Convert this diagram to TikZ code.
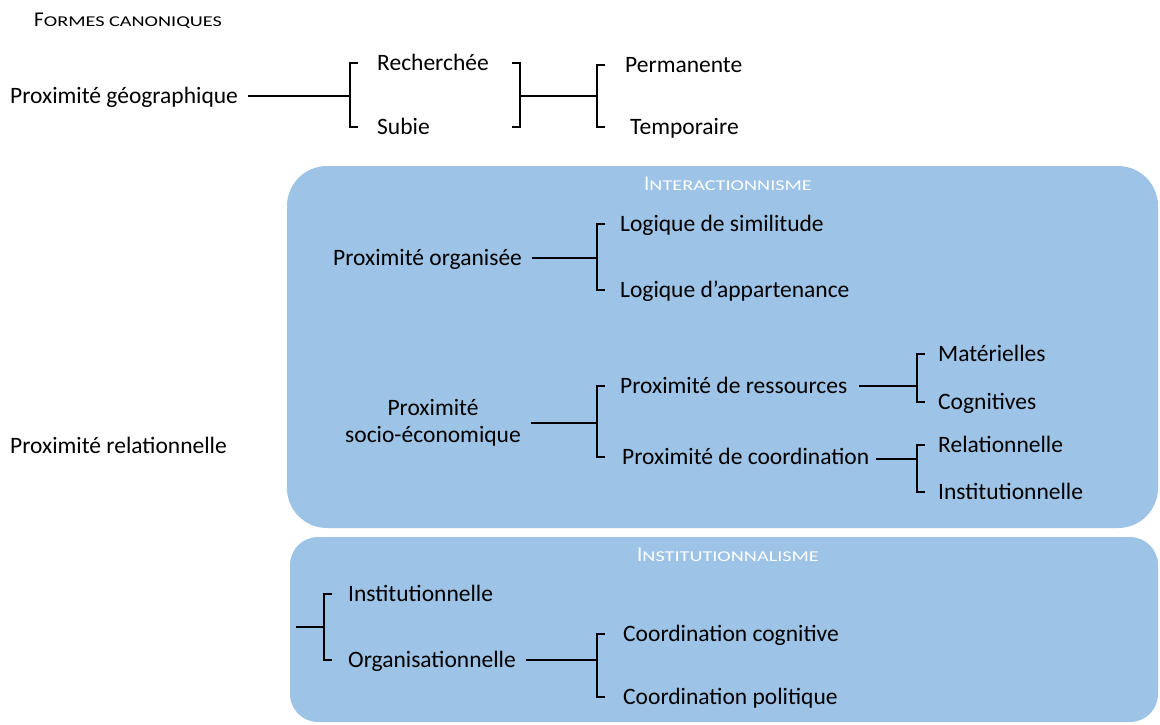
\documentclass[tikz,border=0pt]{standalone}
\usepackage{fontspec}
\setmainfont{Carlito}
\newfontfamily\capsfont[FakeStretch=1.35]{Carlito}
\definecolor{bleuboite}{RGB}{157,195,230}
\newcommand{\petitescap}[2]{{\fontsize{21}{24}\selectfont #1}{\capsfont\fontsize{15}{17}\selectfont #2}}
\tikzset{
  corps/.style={inner sep=0pt, font=\fontsize{23.5}{27}\selectfont},
  terme/.style={corps, anchor=west, text height=15pt, text depth=1pt},
  titre/.style={inner sep=0pt, text=white},
  lien/.style={line width=2.8pt, shorten <=10pt},
  accol/.style={line width=2.8pt},
  boite/.style={fill=bleuboite, rounded corners=40pt},
}
\begin{document}
\begin{tikzpicture}[x=1pt,y=-1pt]
\useasboundingbox (0,0) rectangle (1160,724);
% boites
\fill[boite] (287,166) rectangle (1158,528);
\fill[boite, rounded corners=28pt] (290,537) rectangle (1158,722);
% titres
\node[anchor=west, inner sep=0pt] (canon) at (34,21) {\petitescap{F}{ORMES CANONIQUES}};
\node[titre] (inter) at (728,184) {\petitescap{I}{NTERACTIONNISME}};
\node[titre] (instit) at (728,555) {\petitescap{I}{NSTITUTIONNALISME}};
% proximite geographique
\node[terme] (geo) at (10,96) {Proximité géographique};
\node[terme] (rech) at (377,63) {Recherchée};
\node[terme] (subie) at (377,127) {Subie};
\node[terme] (perm) at (625,65) {Permanente};
\node[terme] (temp) at (630,127) {Temporaire};
\coordinate (g1) at (350,96);
\coordinate (g2) at (520,96);
\coordinate (g3) at (597,96);
\draw[lien] (geo.east) -- (g1);
\draw[accol] ([xshift=8pt]g1 |- rech) -- (g1 |- rech) -- (g1 |- subie) -- ([xshift=8pt]g1 |- subie);
\draw[accol] ([xshift=-8pt]g2 |- rech) -- (g2 |- rech) -- (g2 |- subie) -- ([xshift=-8pt]g2 |- subie);
\draw[accol] (g2) -- (g3);
\draw[accol] ([xshift=8pt]g3 |- perm) -- (g3 |- perm) -- (g3 |- temp) -- ([xshift=8pt]g3 |- temp);
% proximite relationnelle
\node[terme] (relat) at (10,446) {Proximité relationnelle};
% interactionnisme
\node[terme] (org) at (333,258) {Proximité organisée};
\node[terme] (simil) at (620,224) {Logique de similitude};
\node[terme] (appart) at (620,290) {Logique d’appartenance};
\coordinate (o1) at (597,258);
\draw[lien] (org.east) -- (o1);
\draw[accol] ([xshift=8pt]o1 |- simil) -- (o1 |- simil) -- (o1 |- appart) -- ([xshift=8pt]o1 |- appart);
\node[corps, align=center] (socio) at (433,423) {Proximité\\socio-économique};
\node[terme] (ress) at (620,386) {Proximité de ressources};
\node[terme] (coord) at (622,457) {Proximité de coordination};
\coordinate (s1) at (597,423);
\draw[lien] (socio.east) -- (s1);
\draw[accol] ([xshift=8pt]s1 |- ress) -- (s1 |- ress) -- (s1 |- coord) -- ([xshift=8pt]s1 |- coord);
\node[terme] (mat) at (938,354) {Matérielles};
\node[terme] (cogn) at (938,402) {Cognitives};
\node[terme] (rel) at (938,445) {Relationnelle};
\node[terme] (instn) at (938,492) {Institutionnelle};
\coordinate (r1) at (917,386);
\coordinate (c1) at (917,459);
\draw[lien, shorten <=12pt] (ress.east) -- (r1);
\draw[lien, shorten <=7pt] (coord.east |- c1) -- (c1);
\draw[accol] ([xshift=8pt]r1 |- mat) -- (r1 |- mat) -- (r1 |- cogn) -- ([xshift=8pt]r1 |- cogn);
\draw[accol] ([xshift=8pt]c1 |- rel) -- (c1 |- rel) -- (c1 |- instn) -- ([xshift=8pt]c1 |- instn);
% institutionnalisme
\coordinate (i0) at (296,627);
\coordinate (i1) at (324,627);
\node[terme] (instl) at (348,594) {Institutionnelle};
\node[terme] (orgl) at (348,660) {Organisationnelle};
\draw[accol] (i0) -- (i1);
\draw[accol] ([xshift=8pt]i1 |- instl) -- (i1 |- instl) -- (i1 |- orgl) -- ([xshift=8pt]i1 |- orgl);
\node[terme] (ccog) at (623,634) {Coordination cognitive};
\node[terme] (cpol) at (623,697) {Coordination politique};
\coordinate (i2) at (597,660);
\draw[lien] (orgl.east) -- (i2);
\draw[accol] ([xshift=8pt]i2 |- ccog) -- (i2 |- ccog) -- (i2 |- cpol) -- ([xshift=8pt]i2 |- cpol);
\end{tikzpicture}
\end{document}
